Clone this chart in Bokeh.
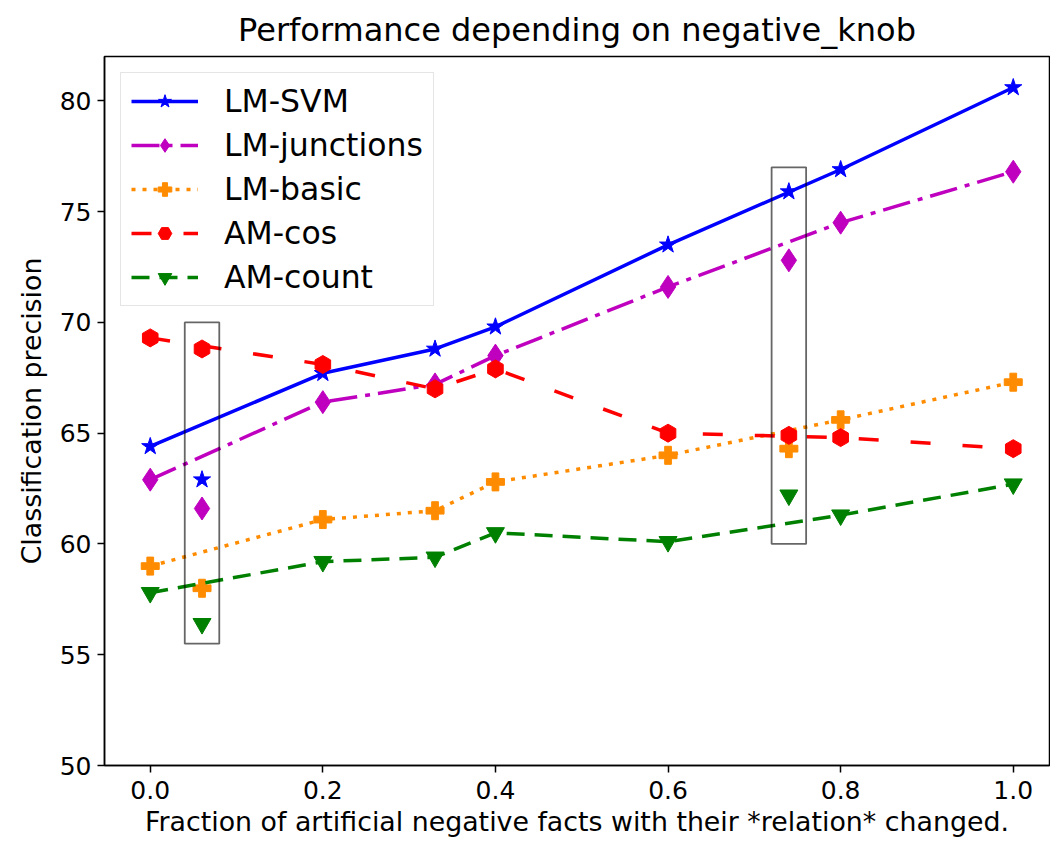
from bokeh.plotting import figure
from bokeh.models import Legend, LegendItem, Range1d, FixedTicker
from bokeh.embed import file_html
from bokeh.resources import INLINE
import math

# ---- data ----
x_main = [0.0, 0.2, 0.33, 0.4, 0.6, 0.8, 1.0]
x_extra = [0.06, 0.74]

names = ["LM-SVM", "LM-junctions", "LM-basic", "AM-cos", "AM-count"]
lm_svm = [64.4, 67.7, 68.8, 69.8, 73.5, 76.9, 80.6]
lm_junctions = [62.9, 66.4, 67.2, 68.5, 71.6, 74.5, 76.8]
lm_basic = [59.0, 61.1, 61.5, 62.8, 64.0, 65.6, 67.3]
am_cos = [69.3, 68.1, 67.0, 67.9, 65.0, 64.8, 64.3]
am_count = [57.8, 59.2, 59.4, 60.5, 60.1, 61.3, 62.7]

lm_svm_extra = [62.9, 75.9]
lm_junctions_extra = [61.6, 72.8]
lm_basic_extra = [58.0, 64.3]
am_cos_extra = [68.8, 64.9]
am_count_extra = [56.4, 62.2]

# highlight boxes (left, right, bottom, top)
box_left = [0.04, 0.72]
box_right = [0.08, 0.76]
box_bottom = [55.5, 60.0]
box_top = [70.0, 77.0]

x_ticks = [0.0, 0.2, 0.4, 0.6, 0.8, 1.0]
y_ticks = [50, 55, 60, 65, 70, 75, 80]

title = "Performance depending on negative_knob"
x_label = "Fraction of artificial negative facts with their *relation* changed."
y_label = "Classification precision"

# ---- styles ----
FONT = "DejaVu Sans"
styles = [
    dict(color="#0000ff", dash="solid", marker="star", size=18, angle=0.0),
    dict(color="#bf00bf", dash="28 8 5 8", marker="diamond", size=23, angle=0.0),
    dict(color="#ff8c00", dash="4 7", marker="plus", size=18, angle=0.0),
    dict(color="#ff0000", dash="20 32", marker="hex", size=18, angle=math.pi / 2),
    dict(color="#008000", dash="18 10", marker="inverted_triangle", size=18, angle=0.0),
]
main_series = [lm_svm, lm_junctions, lm_basic, am_cos, am_count]
extra_series = [lm_svm_extra, lm_junctions_extra, lm_basic_extra, am_cos_extra, am_count_extra]

p = figure(
    width=1050, height=840,
    output_backend="svg", toolbar_location=None,
    x_range=Range1d(-0.053, 1.042), y_range=Range1d(50, 82),
    min_border_left=104, min_border_right=1, min_border_top=55, min_border_bottom=75,
    title=title,
)
p.title.align = "center"
p.title.text_font = FONT
p.title.text_font_size = "32px"
p.title.text_font_style = "normal"
p.title.text_color = "#000000"
p.title.standoff = 16

p.xgrid.visible = False
p.ygrid.visible = False
p.outline_line_color = "#000000"
p.outline_line_width = 1.5
p.background_fill_color = "white"
p.border_fill_color = "white"

for ax in (p.xaxis[0], p.yaxis[0]):
    ax.axis_line_width = 1.5
    ax.axis_line_color = "#000000"
    ax.major_tick_line_width = 1.5
    ax.major_tick_out = 7
    ax.major_tick_in = 0
    ax.minor_tick_out = 0
    ax.minor_tick_in = 0
    ax.major_label_text_font = FONT
    ax.major_label_text_font_size = "25px"
    ax.major_label_text_color = "#000000"
    ax.axis_label_text_font = FONT
    ax.axis_label_text_font_size = "26.8px"
    ax.axis_label_text_font_style = "normal"
    ax.axis_label_text_color = "#000000"

p.xaxis.major_label_standoff = 8
p.yaxis.major_label_standoff = 6
p.xaxis.ticker = FixedTicker(ticks=x_ticks)
p.yaxis.ticker = FixedTicker(ticks=y_ticks)
p.xaxis.major_label_overrides = {t: f"{t:.1f}" for t in x_ticks}
p.xaxis.axis_label = x_label
p.yaxis.axis_label = y_label
p.xaxis.axis_label_standoff = 4
p.yaxis.axis_label_standoff = 10

items = []
for name, ys, extra, st in zip(names, main_series, extra_series, styles):
    ln = p.line(x_main, ys, line_color=st["color"], line_width=3.5, line_dash=st["dash"])
    sc = p.scatter(x_main, ys, marker=st["marker"], size=st["size"], angle=st["angle"],
                   fill_color=st["color"], line_color=st["color"], line_width=1)
    p.scatter(x_extra, extra, marker=st["marker"], size=st["size"], angle=st["angle"],
              fill_color=st["color"], line_color=st["color"], line_width=1)
    items.append(LegendItem(label=name, renderers=[ln, sc]))

p.quad(left=box_left, right=box_right, bottom=box_bottom, top=box_top,
       fill_color=None, line_color="#000000", line_alpha=0.6, line_width=1.8)

legend = Legend(items=items, location="top_left")
legend.margin = 16
legend.padding = 10
legend.spacing = 8
legend.glyph_width = 67
legend.glyph_height = 34
legend.label_height = 34
legend.label_standoff = 26
legend.label_text_font = FONT
legend.label_text_font_size = "31.5px"
legend.label_text_color = "#000000"
legend.border_line_color = "#cccccc"
legend.border_line_width = 1.5
legend.background_fill_alpha = 0.8
p.add_layout(legend)

open("out.html", "w").write(file_html(p, INLINE))
